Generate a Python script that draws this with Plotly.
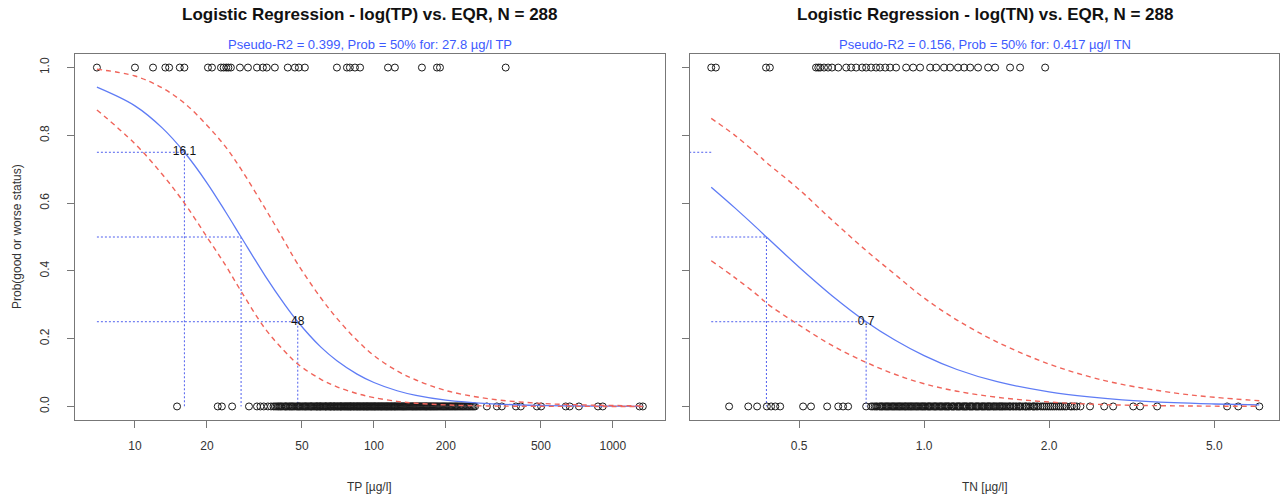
import plotly.graph_objects as go

# ---------------- data ----------------
# Left panel: TP [ug/l]
tp_good = [6.93, 10.0, 11.9, 13.4, 13.9, 15.4, 16.1, 20.2, 21.0, 22.9, 23.5, 24.1, 24.6, 25.2,
           27.5, 29.7, 32.4, 34.3, 35.6, 38.5, 43.6, 46.7, 48.5, 51.4, 70.0, 77.1, 79.3, 83.3,
           87.5, 114.5, 122.4, 158.8, 183.6, 189.0, 356.0]
tp_bad = [15.0, 22.2, 23.1, 25.5, 30.0,
          32.4, 33.5, 34.6, 36.0, 37.1, 38.0, 39.2, 40.1, 41.0, 42.3, 43.0, 44.2, 45.1, 46.0, 47.3,
          48.2, 49.0, 50.1, 51.2, 52.0, 53.1, 54.3, 55.0, 56.2, 57.4, 58.1, 59.3, 60.0, 61.2, 62.5,
          63.1, 64.4, 65.6, 66.3, 67.8, 68.5, 69.9, 71.0, 72.4, 73.1, 74.6, 75.8, 77.0, 78.2, 79.5,
          80.3, 81.9, 83.0, 84.6, 85.7, 87.1, 88.4, 90.0, 91.2, 92.8, 94.0, 95.5, 97.1, 98.6, 100.2,
          101.5, 103.4, 105.0, 106.8, 108.3, 110.1, 112.0, 113.6, 115.4, 117.5, 119.2, 121.4, 123.0,
          125.3, 127.6, 129.8, 132.0, 134.1, 136.5, 139.0, 141.6, 144.2, 146.5, 149.3, 152.0, 155.1,
          158.0, 161.3, 164.5, 167.2, 170.8, 174.0, 177.6, 181.3, 185.0, 189.2, 193.5, 197.6, 202.0,
          206.7, 211.4, 216.5, 221.3, 227.0, 232.8, 238.4, 244.9, 251.3, 258.0, 265.0,
          38.6, 39.7, 40.6, 41.6, 42.7, 43.6, 44.6, 45.5, 46.6, 47.8, 48.6, 49.5, 50.6, 51.6, 52.5,
          53.7, 54.6, 55.6, 56.8, 57.7, 58.7, 59.6, 60.6, 61.8, 62.8, 63.7, 65.0, 65.9, 67.0, 68.1,
          69.2, 70.4, 71.7, 72.7, 73.8, 75.2, 76.4, 77.6, 78.8, 79.9, 81.1, 82.4, 83.8, 85.1, 86.4,
          87.7, 89.2, 90.6, 92.0, 93.4, 94.7, 96.3, 97.8, 99.4, 100.9, 102.4, 104.2, 105.9, 107.5,
          109.2, 111.0, 112.8, 114.5, 116.4, 118.3, 120.3, 122.2, 124.1, 126.4, 128.7, 130.9, 133.0,
          135.3, 137.7, 140.3, 142.9, 145.3, 147.9, 150.6, 153.5, 156.5, 159.6, 162.9, 165.8, 169.0,
          172.4, 175.8, 179.4, 183.1, 187.1, 191.3, 195.5, 199.8, 204.3, 209.0, 213.9, 218.9, 224.1,
          229.9, 235.6, 241.6, 248.1, 254.6, 261.4,
          297.0, 327.0, 343.0, 393.0, 412.0, 481.0, 501.0, 635.0, 660.0, 721.0, 866.0, 907.0,
          1293.0, 1335.0]

tp_curve_x = [6.93, 10, 13, 16.1, 20, 24, 27.8, 35, 42, 48, 60, 70, 85, 100, 125, 150, 200, 300,
              500, 750, 1000, 1335]
tp_fit = [0.942, 0.887, 0.822, 0.75, 0.660, 0.573, 0.5, 0.386, 0.304, 0.25, 0.175, 0.135, 0.0955,
          0.0707, 0.0463, 0.0326, 0.0185, 0.0083, 0.0030, 0.0013, 0.00074, 0.00041]
tp_upper = [0.995, 0.975, 0.94, 0.895, 0.83, 0.765, 0.70, 0.585, 0.49, 0.42, 0.32, 0.26, 0.195,
            0.15, 0.105, 0.078, 0.047, 0.023, 0.009, 0.0045, 0.0028, 0.0017]
tp_lower = [0.875, 0.775, 0.685, 0.60, 0.50, 0.415, 0.34, 0.23, 0.165, 0.125, 0.08, 0.058, 0.038,
            0.026, 0.015, 0.0095, 0.0045, 0.0015, 0.0004, 0.0001, 0.00005, 0.00002]

tp_levels = [0.75, 0.5, 0.25]
tp_at_level = [16.1, 27.8, 48.0]
tp_min = 6.93
tp_label_text = ["16.1", "48"]
tp_label_x = [16.1, 48.0]
tp_label_y = [0.75, 0.25]

# Right panel: TN
tn_good = [0.307, 0.315, 0.416, 0.425, 0.549, 0.556, 0.562, 0.574, 0.587, 0.600, 0.621, 0.649,
           0.667, 0.686, 0.709, 0.725, 0.745, 0.766, 0.783, 0.806, 0.828, 0.856, 0.905, 0.941,
           0.978, 1.034, 1.069, 1.117, 1.155, 1.207, 1.249, 1.291, 1.349, 1.426, 1.483, 1.611,
           1.703, 1.957]
tn_bad = [0.339, 0.377, 0.396, 0.418, 0.428, 0.438, 0.450, 0.511, 0.534, 0.584, 0.621, 0.638, 0.656,
          0.725, 0.745, 0.752, 0.766, 0.771, 0.785, 0.794, 0.801, 0.812, 0.822, 0.828, 0.840, 0.850,
          0.856, 0.868, 0.878, 0.884, 0.897, 0.906, 0.913, 0.925, 0.935, 0.941, 0.955, 0.966, 0.972,
          0.987, 0.998, 1.004, 1.020, 1.031, 1.036, 1.054, 1.065, 1.071, 1.089, 1.101, 1.108, 1.125,
          1.138, 1.144, 1.163, 1.176, 1.182, 1.202, 1.215, 1.222, 1.243, 1.256, 1.263, 1.284, 1.298,
          1.305, 1.327, 1.342, 1.349, 1.372, 1.387, 1.395, 1.418, 1.433, 1.440, 1.465, 1.481, 1.490,
          1.514, 1.531, 1.548, 1.572, 1.600, 1.617, 1.635, 1.660, 1.690, 1.709, 1.747, 1.766, 1.786,
          1.826, 1.846, 1.866, 1.908, 1.929, 1.972, 2.016, 2.038, 2.084, 2.130, 2.154, 2.202, 2.251,
          2.301, 2.380,
          0.760, 0.780, 0.790, 0.807, 0.817, 0.835, 0.845, 0.862, 0.873, 0.890, 0.901, 0.919, 0.930,
          0.948, 0.960, 0.980, 0.992, 1.010, 1.025, 1.045, 1.060, 1.080, 1.095, 1.118, 1.131, 1.150,
          1.170, 1.195, 1.209, 1.235, 1.250, 1.270, 1.291, 1.312, 1.335, 1.357, 1.380, 1.404, 1.425,
          1.450, 1.472, 1.500, 1.522, 1.540, 1.560, 1.585, 1.609, 1.645, 1.672, 1.700, 1.728, 1.757,
          1.800, 1.836, 1.880, 1.950, 1.995, 2.060, 2.110, 2.180, 2.270, 2.330,
          2.51, 2.716, 2.854, 3.19, 3.315, 3.643, 5.37, 5.71, 6.42]

tn_curve_x = [0.307, 0.35, 0.4, 0.417, 0.5, 0.6, 0.725, 0.85, 1.0, 1.2, 1.5, 2.0, 2.5, 3.0, 4.0,
              5.0, 6.42]
tn_fit = [0.647, 0.586, 0.521, 0.5, 0.411, 0.327, 0.25, 0.196, 0.150, 0.109, 0.073, 0.043, 0.028,
          0.0195, 0.011, 0.0072, 0.0044]
tn_upper = [0.85, 0.80, 0.74, 0.72, 0.64, 0.55, 0.46, 0.39, 0.32, 0.255, 0.19, 0.125, 0.088, 0.065,
            0.04, 0.027, 0.017]
tn_lower = [0.43, 0.38, 0.325, 0.305, 0.24, 0.18, 0.13, 0.095, 0.067, 0.045, 0.027, 0.013, 0.007,
            0.004, 0.0017, 0.0008, 0.0004]

tn_levels = [0.75, 0.5, 0.25]
tn_at_level = [0.24, 0.417, 0.725]
tn_min = 0.307
tn_label_text = ["0.7"]
tn_label_x = [0.725]
tn_label_y = [0.25]

titles = ["Logistic Regression - log(TP) vs. EQR, N = 288",
          "Logistic Regression - log(TN) vs. EQR, N = 288"]
subtitles = ["Pseudo-R2 = 0.399, Prob = 50% for: 27.8 µg/l TP",
             "Pseudo-R2 = 0.156, Prob = 50% for: 0.417 µg/l TN"]
xtitles = ["TP [µg/l]", "TN [µg/l]"]
ytitle = "Prob(good or worse status)"
tp_ticks = [10, 20, 50, 100, 200, 500, 1000]
tp_ticktext = ["10", "20", "50", "100", "200", "500", "1000"]
tn_ticks = [0.5, 1.0, 2.0, 5.0]
tn_ticktext = ["0.5", "1.0", "2.0", "5.0"]
y_ticks = [0, 0.2, 0.4, 0.6, 0.8, 1.0]
y_ticktext = ["0.0", "0.2", "0.4", "0.6", "0.8", "1.0"]

# ---------------- styles ----------------
FONT = "Liberation Sans, Arial, Helvetica, sans-serif"
BLUE = "#5f7cf5"
DOT_BLUE = "#5060ee"
RED = "#f0645a"
PT = "#1a1a1a"

fig = go.Figure()


def add_panel(xa, ya, good, bad, cx, fit, up, lo, levels, at_level, xmin, ltxt, lx, ly):
    # guide lines
    for lev, xv in zip(levels, at_level):
        fig.add_trace(go.Scatter(x=[xmin, xv], y=[lev, lev], mode="lines",
                                 line=dict(color=DOT_BLUE, width=1, dash="2px,2px"),
                                 xaxis=xa, yaxis=ya, hoverinfo="skip"))
        fig.add_trace(go.Scatter(x=[xv, xv], y=[lev, 0], mode="lines",
                                 line=dict(color=DOT_BLUE, width=1, dash="2px,2px"),
                                 xaxis=xa, yaxis=ya, hoverinfo="skip"))
    fig.add_trace(go.Scatter(x=good, y=[1] * len(good), mode="markers",
                             marker=dict(symbol="circle-open", size=7, color=PT,
                                         line=dict(width=1, color=PT)),
                             xaxis=xa, yaxis=ya))
    fig.add_trace(go.Scatter(x=bad, y=[0] * len(bad), mode="markers",
                             marker=dict(symbol="circle-open", size=7, color=PT,
                                         line=dict(width=1, color=PT)),
                             xaxis=xa, yaxis=ya))
    fig.add_trace(go.Scatter(x=cx, y=fit, mode="lines", line=dict(color=BLUE, width=1.3,
                                                                   shape="spline"),
                             xaxis=xa, yaxis=ya))
    for band in (up, lo):
        fig.add_trace(go.Scatter(x=cx, y=band, mode="lines",
                                 line=dict(color=RED, width=1.4, dash="5px,4px", shape="spline"),
                                 xaxis=xa, yaxis=ya))
    fig.add_trace(go.Scatter(x=lx, y=ly, mode="text", text=ltxt,
                             textfont=dict(size=12, color="#111", family=FONT),
                             textposition="middle center", xaxis=xa, yaxis=ya))


add_panel("x", "y", tp_good, tp_bad, tp_curve_x, tp_fit, tp_upper, tp_lower,
          tp_levels, tp_at_level, tp_min, tp_label_text, tp_label_x, tp_label_y)
add_panel("x2", "y2", tn_good, tn_bad, tn_curve_x, tn_fit, tn_upper, tn_lower,
          tn_levels, tn_at_level, tn_min, tn_label_text, tn_label_x, tn_label_y)

axis_common = dict(showgrid=False, zeroline=False, showline=True, mirror=True,
                   linecolor="#777", linewidth=1, ticks="outside", ticklen=7,
                   tickcolor="#777", tickfont=dict(size=12, color="#333", family=FONT))

D1 = [0.0, 0.490]
D2 = [0.5108, 1.0]

fig.update_layout(
    width=1281, height=495,
    margin=dict(l=75, r=2, t=54, b=75),
    paper_bgcolor="white", plot_bgcolor="white",
    showlegend=False, hovermode=False,
    font=dict(family=FONT, color="#222"),
    xaxis=dict(domain=D1, type="log", range=[0.749, 3.218], tickvals=tp_ticks,
               ticktext=tp_ticktext, anchor="y", ticklabelstandoff=8, **axis_common),
    yaxis=dict(domain=[0, 1], range=[-0.04, 1.04], tickvals=y_ticks, ticktext=y_ticktext,
               tickangle=-90, anchor="x", ticklabelstandoff=13, **axis_common),
    xaxis2=dict(domain=D2, type="log", range=[-0.564, 0.855], tickvals=tn_ticks,
                ticktext=tn_ticktext, anchor="y2", ticklabelstandoff=8, **axis_common),
    yaxis2=dict(domain=[0, 1], range=[-0.04, 1.04], tickvals=y_ticks, showticklabels=False,
                anchor="x2", **axis_common),
)

ann = []
for i, D in enumerate([D1, D2]):
    cxp = (D[0] + D[1]) / 2
    ann.append(dict(x=cxp, y=1, xref="paper", yref="paper", text="<b>%s</b>" % titles[i],
                    showarrow=False, yshift=40, xanchor="center", yanchor="middle",
                    font=dict(size=17, color="#111", family=FONT)))
    ann.append(dict(x=cxp, y=1, xref="paper", yref="paper", text=subtitles[i],
                    showarrow=False, yshift=10, xanchor="center", yanchor="middle",
                    font=dict(size=13, color="#3d5afe", family=FONT)))
    ann.append(dict(x=cxp, y=0, xref="paper", yref="paper", text=xtitles[i],
                    showarrow=False, yshift=-67, xanchor="center", yanchor="middle",
                    font=dict(size=12, color="#333", family=FONT)))
ann.append(dict(x=0, y=0.5, xref="paper", yref="paper", text=ytitle, textangle=-90,
                showarrow=False, xshift=-58, xanchor="center", yanchor="middle",
                font=dict(size=12, color="#333", family=FONT)))
fig.update_layout(annotations=ann)

# remove the default 8px page margin so the figure fills the window exactly
fig.write_html("out.html", config={"displayModeBar": False, "staticPlot": True},
               post_script="document.body.style.margin='0px';")
